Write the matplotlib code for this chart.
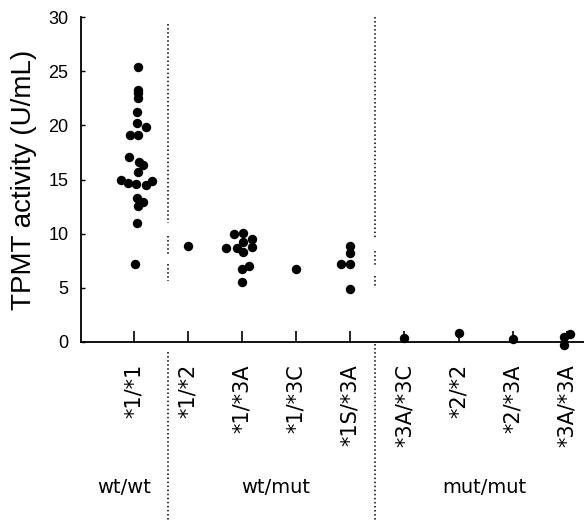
import numpy as np
import matplotlib.pyplot as plt

# genotype categories, left to right
genotypes = ["*1/*1", "*1/*2", "*1/*3A", "*1/*3C", "*1S/*3A",
             "*3A/*3C", "*2/*2", "*2/*3A", "*3A/*3A"]

# TPMT activity (U/mL), one list per genotype
act_1_1 = [25.4, 23.3, 23.0, 22.5, 21.2, 20.2, 19.8, 19.1, 19.1, 17.1, 16.6, 16.3,
           15.7, 15.0, 14.7, 14.6, 14.5, 14.9, 13.3, 12.9, 12.6, 11.0, 7.2]
act_1_2 = [8.9]
act_1_3A = [10.0, 10.1, 9.5, 9.2, 8.7, 8.7, 8.8, 8.3, 6.7, 7.0, 5.5]
act_1_3C = [6.7]
act_1S_3A = [8.9, 8.2, 7.2, 7.2, 4.9]
act_3A_3C = [0.4]
act_2_2 = [0.8]
act_2_3A = [0.25]
act_3A_3A = [0.5, 0.7, -0.3]

# horizontal scatter of dots around each category
jit_1_1 = [0.07, 0.07, 0.07, 0.07, 0.06, 0.05, 0.22, -0.07, 0.07, -0.09, 0.09, 0.16,
           0.07, -0.24, -0.11, 0.04, 0.22, 0.33, 0.05, 0.16, 0.07, 0.05, 0.02]
jit_1_3A = [-0.15, 0.02, 0.19, 0.02, -0.30, -0.10, 0.19, 0.02, 0.0, 0.13, 0.0]
jit_1S_3A = [0.0, 0.0, -0.18, 0.0, 0.0]
jit_3A_3A = [-0.05, 0.07, -0.05]

groups = ["wt/wt", "wt/mut", "mut/mut"]

values = [act_1_1, act_1_2, act_1_3A, act_1_3C, act_1S_3A,
          act_3A_3C, act_2_2, act_2_3A, act_3A_3A]
jitters = [jit_1_1, [0.0], jit_1_3A, [0.0], jit_1S_3A,
           [0.0], [0.0], [0.0], jit_3A_3A]

W, H = 584, 521
fig = plt.figure(figsize=(W / 100, H / 100), dpi=100)
ax = fig.add_axes([81 / W, 1 - 342 / H, 1 - 81 / W, (342 - 17) / H])

for i, (v, j) in enumerate(zip(values, jitters)):
    ax.scatter(i + np.array(j), v, s=46, color="black", lw=0, zorder=3, clip_on=False)

ax.set_xlim(-0.98, 8.32)
ax.set_ylim(0, 30)

for s in ["top", "right"]:
    ax.spines[s].set_visible(False)
ax.spines["left"].set_linewidth(1.3)
ax.spines["bottom"].set_linewidth(1.3)

ax.set_yticks(range(0, 31, 5))
ax.tick_params(axis="y", direction="in", length=3, width=1, pad=9,
               labelsize=13, labelfontfamily="Liberation Sans")
ax.set_xticks(range(len(genotypes)))
ax.set_xticklabels(genotypes, rotation=90, va="top", fontsize=15)
ax.tick_params(axis="x", direction="in", length=8, width=1.2, pad=16)

ax.set_ylabel("TPMT activity (U/mL)", fontsize=20, family="Liberation Sans",
              labelpad=8)

# dotted separators between genotype groups
dot = dict(color="black", ls=":", lw=1.1, clip_on=False)
ax.plot([0.63, 0.63], [29.4, 11.0], **dot)
ax.plot([0.63, 0.63], [9.8, 8.0], **dot)
ax.plot([0.63, 0.63], [7.2, 5.6], **dot)
ax.plot([0.63, 0.63], [-0.9, -16.6], **dot)
ax.plot([4.45, 4.45], [30.0, 9.6], **dot)
ax.plot([4.45, 4.45], [8.4, 7.0], **dot)
ax.plot([4.45, 4.45], [6.1, 5.2], **dot)
ax.plot([4.45, 4.45], [-0.2, -16.6], **dot)

for gx, g in zip([-0.18, 2.62, 6.48], groups):
    ax.text(gx, -13.4, g, ha="center", va="center", fontsize=14, clip_on=False)

fig.savefig("out.png", dpi=100)
